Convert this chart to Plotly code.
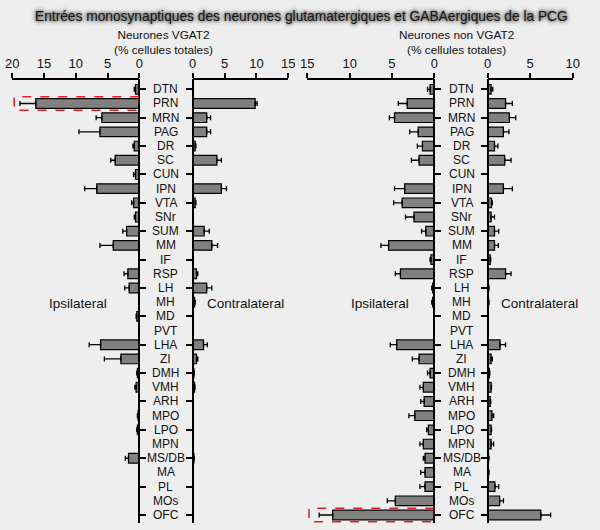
import plotly.graph_objects as go

regions = ["DTN", "PRN", "MRN", "PAG", "DR", "SC", "CUN", "IPN", "VTA", "SNr", "SUM", "MM", "IF",
           "RSP", "LH", "MH", "MD", "PVT", "LHA", "ZI", "DMH", "VMH", "ARH", "MPO", "LPO", "MPN",
           "MS/DB", "MA", "PL", "MOs", "OFC"]

# Neurones VGAT2 (% cellules totales)
vgat_ipsi = [0.6, 16.3, 5.9, 6.2, 0.8, 3.8, 0.6, 6.7, 0.9, 0.6, 2.0, 4.1, 0.1,
             1.8, 1.6, 0.1, 0.4, 0.0, 6.1, 2.9, 0.3, 0.5, 0.0, 0.2, 0.3, 0.1,
             1.7, 0.1, 0.0, 0.0, 0.0]
vgat_ipsi_err = [0.2, 2.5, 0.9, 3.3, 0.2, 0.7, 0.3, 1.9, 0.3, 0.2, 0.6, 2.1, 0.0,
                 0.6, 0.7, 0.0, 0.1, 0.0, 1.8, 2.6, 0.1, 0.2, 0.0, 0.1, 0.1, 0.0,
                 0.5, 0.0, 0.0, 0.0, 0.0]
vgat_contra = [0.0, 9.8, 2.2, 2.2, 0.4, 3.8, 0.1, 4.5, 0.4, 0.0, 1.8, 3.0, 0.0,
               0.6, 2.2, 0.3, 0.0, 0.0, 1.7, 0.6, 0.2, 0.3, 0.0, 0.0, 0.0, 0.0,
               0.2, 0.0, 0.0, 0.0, 0.0]
vgat_contra_err = [0.0, 0.3, 0.6, 0.6, 0.1, 0.7, 0.0, 0.8, 0.1, 0.0, 0.8, 0.9, 0.0,
                   0.2, 0.8, 0.1, 0.0, 0.0, 0.6, 0.2, 0.05, 0.05, 0.0, 0.0, 0.0, 0.0,
                   0.05, 0.0, 0.0, 0.0, 0.0]

# Neurones non VGAT2 (% cellules totales)
non_ipsi = [0.5, 3.2, 4.7, 1.9, 1.4, 1.8, 0.0, 3.5, 3.8, 2.4, 1.0, 5.4, 0.4,
            4.0, 0.2, 0.2, 0.0, 0.0, 4.45, 1.8, 0.5, 1.3, 1.2, 2.3, 0.7, 1.3,
            1.1, 1.1, 1.1, 4.6, 12.0]
non_ipsi_err = [0.3, 1.05, 0.6, 1.0, 0.6, 0.9, 0.0, 1.2, 1.0, 1.0, 0.5, 0.9, 0.1,
                0.6, 0.1, 0.1, 0.0, 0.0, 0.75, 0.8, 0.3, 0.4, 0.4, 0.7, 0.2, 0.4,
                0.2, 0.5, 0.6, 0.95, 1.6]
non_contra = [0.4, 2.1, 2.55, 1.85, 0.8, 2.0, 0.0, 1.85, 0.45, 0.4, 0.8, 0.8, 0.3,
              2.1, 0.1, 0.1, 0.0, 0.0, 1.45, 0.4, 0.2, 0.4, 0.3, 0.5, 0.4, 0.4,
              0.1, 0.1, 0.85, 1.4, 6.25]
non_contra_err = [0.2, 0.8, 0.75, 0.65, 0.4, 0.75, 0.0, 1.05, 0.1, 0.4, 0.5, 0.45, 0.05,
                  0.65, 0.05, 0.05, 0.0, 0.0, 0.65, 0.15, 0.05, 0.05, 0.05, 0.2, 0.05, 0.3,
                  0.05, 0.05, 0.45, 0.45, 1.15]

title_text = "Entrées monosynaptiques des neurones glutamatergiques et GABAergiques de la PCG"
panel_titles = ["Neurones VGAT2<br>(% cellules totales)",
                "Neurones non VGAT2<br>(% cellules totales)"]
side_labels = ("Ipsilateral", "Contralateral")
highlights = [("x", "y", "PRN", 19.7), ("x3", "y3", "OFC", 14.8)]

W, H = 600, 530
FONT = "Liberation Sans, Arial, Helvetica, sans-serif"
BG = "#eeeeee"
BAR = "#808080"

def px(v):
    return v / W

def py(v):
    return 1 - v / H

fig = go.Figure()

series = [
    (vgat_ipsi, vgat_ipsi_err, "x", "y"),
    (vgat_contra, vgat_contra_err, "x2", "y2"),
    (non_ipsi, non_ipsi_err, "x3", "y3"),
    (non_contra, non_contra_err, "x4", "y4"),
]
for vals, errs, xa, ya in series:
    fig.add_trace(go.Bar(
        x=vals, y=regions, orientation="h", xaxis=xa, yaxis=ya, width=0.68,
        marker=dict(color=BAR, line=dict(color="black", width=1.2)),
        error_x=dict(type="data", array=errs, arrayminus=[0] * len(errs), symmetric=False,
                     color="black", thickness=1.3, width=2.5),
        showlegend=False, hoverinfo="x+y",
    ))

axis_top = 79
axis_bot = 523
first_y, spacing = 89.3, 14.19
yrange = [(axis_bot - first_y) / spacing, (axis_top - first_y) / spacing]

xcommon = dict(side="top", anchor="free", position=py(axis_top), showgrid=False, zeroline=False,
               showline=True, linecolor="black", linewidth=1.5, ticks="outside", ticklen=5,
               tickwidth=1.5, tickcolor="black", fixedrange=True, automargin=False,
               tickfont=dict(family=FONT, size=13, color="#111"))
ycommon = dict(type="category", categoryorder="array", categoryarray=regions, range=yrange,
               domain=[py(axis_bot), py(axis_top)], showgrid=False, zeroline=False,
               showline=True, linecolor="black", linewidth=1.5, ticks="outside", ticklen=6,
               tickwidth=1.5, tickcolor="black", showticklabels=False, anchor="free",
               fixedrange=True, automargin=False)

fig.update_layout(
    xaxis=dict(xcommon, domain=[px(12.3), px(139.3)], range=[20, 0], tickvals=[0, 5, 10, 15, 20]),
    xaxis2=dict(xcommon, domain=[px(192.7), px(288.3)], range=[0, 15], tickvals=[0, 5, 10, 15]),
    xaxis3=dict(xcommon, domain=[px(307.3), px(434.3)], range=[15, 0], tickvals=[0, 5, 10, 15]),
    xaxis4=dict(xcommon, domain=[px(487.7), px(572.7)], range=[0, 10], tickvals=[0, 5, 10]),
    yaxis=dict(ycommon, position=px(139.3), side="right"),
    yaxis2=dict(ycommon, position=px(192.7), side="left", overlaying="y"),
    yaxis3=dict(ycommon, position=px(434.3), side="right", overlaying="y"),
    yaxis4=dict(ycommon, position=px(487.7), side="left", overlaying="y"),
)

annotations = []
# category labels
for cx in (165.7, 461.5):
    for r in regions:
        annotations.append(dict(x=px(cx), xref="paper", y=r, yref="y", text=r, showarrow=False,
                                xanchor="center", yanchor="middle",
                                font=dict(family=FONT, size=12, color="#111")))
# panel titles
for txt, cx in zip(panel_titles, (163.7, 456.5)):
    annotations.append(dict(x=px(cx), y=py(42.5), xref="paper", yref="paper", text=txt,
                            showarrow=False, xanchor="center", yanchor="middle", borderpad=0,
                            font=dict(family=FONT, size=11.8, color="#111")))
# side labels
for cx, txt in zip((78, 246, 380, 539), side_labels * 2):
    annotations.append(dict(x=px(cx), y=py(303), xref="paper", yref="paper", text=txt,
                            showarrow=False, xanchor="center", yanchor="middle",
                            font=dict(family=FONT, size=13.5, color="#111")))
# main title
annotations.append(dict(x=px(301), y=py(17), xref="paper", yref="paper", text=title_text,
                        showarrow=False, xanchor="center", yanchor="middle",
                        font=dict(family=FONT, size=13.75, color="#1a1a1a",
                                  shadow="0px 0px 4px #555, 0px 0px 4px #666, 0px 0px 2px #888")))

shapes = []
for xa, ya, cat, xmax in highlights:
    idx = regions.index(cat)
    shapes.append(dict(type="rect", xref=xa, yref=ya, x0=0, x1=xmax, y0=idx - 0.48, y1=idx + 0.48,
                       line=dict(color="#e02020", width=1.5, dash="dash"), layer="above"))

fig.update_layout(
    width=W, height=H, margin=dict(l=0, r=0, t=0, b=0, autoexpand=False),
    paper_bgcolor=BG, plot_bgcolor="rgba(0,0,0,0)",
    annotations=annotations, shapes=shapes, showlegend=False,
    font=dict(family=FONT, color="#111"),
)

fig.write_html("out.html", config={"displayModeBar": False},
               post_script="document.body.style.margin='0';document.body.style.background='#eeeeee';")
